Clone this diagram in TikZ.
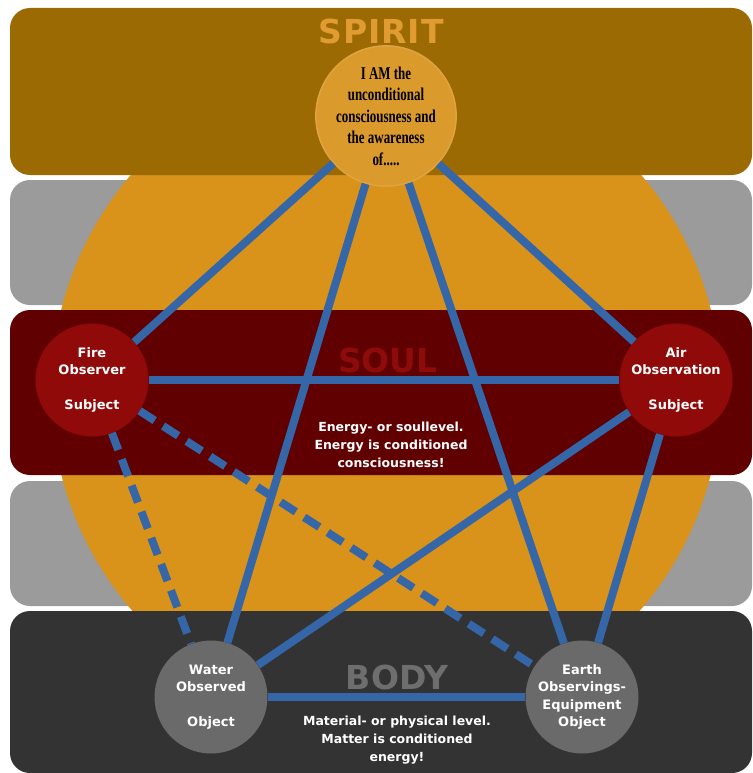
\documentclass[tikz,border=0pt]{standalone}
\usepackage{fontspec}
\setmainfont{DejaVu Sans}
\newfontfamily\spiritfont[FakeStretch=0.72]{Liberation Serif}
\usetikzlibrary{positioning}

\definecolor{spiritband}{HTML}{9C6A03}
\definecolor{greyband}{HTML}{9B9B9B}
\definecolor{soulband}{HTML}{600000}
\definecolor{bodyband}{HTML}{333333}
\definecolor{sun}{HTML}{D9921A}
\definecolor{spiritdot}{HTML}{DB9A2C}
\definecolor{souldot}{HTML}{900A0A}
\definecolor{bodydot}{HTML}{6A6A6A}
\definecolor{link}{HTML}{3566A8}
\definecolor{spirittitle}{HTML}{E09C30}
\definecolor{soultitle}{HTML}{8E0B0B}
\definecolor{bodytitle}{HTML}{6E6E6E}

\begin{document}
\begin{tikzpicture}[x=1pt,y=-1pt,node distance=2cm,on grid,
    band/.style={rounded corners=20pt},
    element/.style={circle,minimum size=113pt,inner sep=0pt,align=center,
      text=white,font=\bfseries\fontsize{13}{17.5}\selectfont},
    title/.style={font=\bfseries\fontsize{33}{33}\selectfont},
    note/.style={align=center,text=white,font=\bfseries\fontsize{12.5}{18}\selectfont},
    tie/.style={draw=link,line width=8pt},
    dashtie/.style={tie,dash pattern=on 18pt off 10pt}]
                \useasboundingbox (0,0) rectangle (752,773);
                % levels
                \fill[band,greyband] (10,180) rectangle (752,305);
                \fill[band,greyband] (10,481) rectangle (752,606);
                \fill[sun] (386,392) circle (335);
                \fill[band,spiritband] (10,8) rectangle (752,175);
                \fill[band,soulband] (10,310) rectangle (752,475);
                \fill[band,bodyband] (10,611) rectangle (752,773);
                \node[title,text=spirittitle] (spirittitle) at (381,31) {\addfontfeature{LetterSpace=3}SPIRIT};
                \node[title,text=soultitle] (soultitle) at (388,360) {SOUL};
                \node[title,text=bodytitle] (bodytitle) at (397,677) {BODY};
                % elements
                \node[element,fill=spiritdot,draw=spiritdot!90!white,line width=1.5pt,
                  minimum size=124pt,text=black,
                  font=\spiritfont\bfseries\fontsize{18}{21.5}\selectfont]
                  (spirit) at (386,116) {I AM the\\unconditional\\consciousness and\\the awareness\\of.....};
                \node[element,fill=souldot](fire) at (92,380) {Fire\\Observer\\[17.5pt]Subject};
                \node[element,fill=souldot](air) [right=584pt of fire] {Air\\Observation\\[17.5pt]Subject};
                \node[element,fill=bodydot](water) at (211,697) {Water\\Observed\\[17.5pt]Object};
                \node[element,fill=bodydot](earth) [right=371pt of water] {Earth\\Observings-\\Equipment\\Object};
                \path[tie]
                (spirit) edge (fire)
                (spirit) edge (air)
                (spirit) edge (water)
                (spirit) edge (earth)
                (fire) edge (air)
                (air) edge (water)
                (air) edge (earth)
                (water) edge (earth);
                \path[dashtie]
                (fire) edge (water)
                (fire) edge (earth);
                % notes
                \node[note] (soulnote) at (391,445) {Energy- or soullevel.\\Energy is conditioned\\consciousness!};
                \node[note] (bodynote) at (397,740) {Material- or physical level.\\Matter is conditioned\\energy!};
            \end{tikzpicture}
\end{document}
